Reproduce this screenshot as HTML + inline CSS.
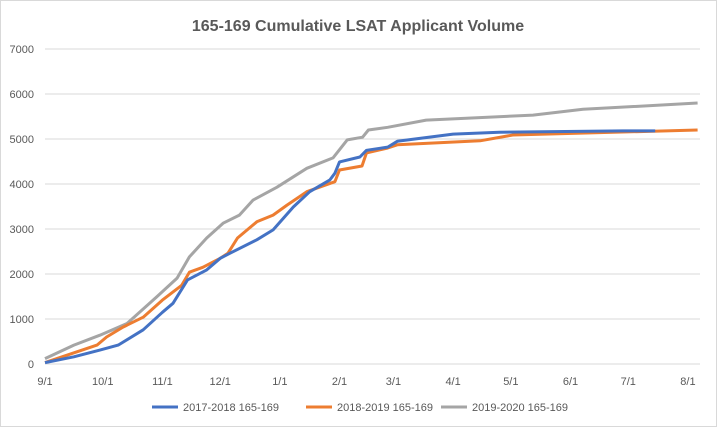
<!DOCTYPE html>
<html><head><meta charset="utf-8"><style>
body{margin:0;background:#fff;}
svg{display:block;font-family:"Liberation Sans",sans-serif;}
</style></head><body>
<svg id="chart" width="717" height="427">
<rect x="0.5" y="0.5" width="716" height="426" fill="#fff" stroke="#d9d9d9"/>
<text x="358" y="31" text-anchor="middle" font-size="16" font-weight="bold" fill="#595959">165-169 Cumulative LSAT Applicant Volume</text>
<g id="grid"></g><g id="yt"></g><g id="xt"></g><g id="lines"></g>
<g>
<line x1="152" y1="407" x2="178" y2="407" stroke="#4472C4" stroke-width="3"/>
<text x="183" y="411" font-size="11" fill="#595959">2017-2018 165-169</text>
<line x1="306" y1="407" x2="332" y2="407" stroke="#ED7D31" stroke-width="3"/>
<text x="337" y="411" font-size="11" fill="#595959">2018-2019 165-169</text>
<line x1="441" y1="407" x2="467" y2="407" stroke="#A5A5A5" stroke-width="3"/>
<text x="472" y="411" font-size="11" fill="#595959">2019-2020 165-169</text>
</g>
</svg>
<script>
const yTicks=[0,1000,2000,3000,4000,5000,6000,7000];
const xTickLabels=["9/1","10/1","11/1","12/1","1/1","2/1","3/1","4/1","5/1","6/1","7/1","8/1"];
const xTickDays=[0,30,61,91,122,153,181,212,242,273,303,334];
const s1Days=[0,15,28.5,38,51,61,66.5,74,84,91,96,110,118.5,129,137.5,148,150.6,153,163.6,167,178,183,212,236,300,317];
const s1Vals=[30,160,310,420,760,1150,1350,1870,2090,2350,2460,2760,2980,3490,3830,4090,4240,4490,4600,4750,4820,4950,5110,5150,5180,5180];
const s2Days=[0,27,32,40.5,51,61,71,75,82,91,95,100,110,118.5,125.7,136,150.6,153,164.7,167,178,183,226,243,339];
const s2Vals=[30,420,600,820,1040,1420,1750,2040,2150,2350,2460,2800,3160,3310,3530,3830,4050,4310,4400,4690,4800,4870,4960,5090,5200];
const s3Days=[0,15,28.5,42.6,58,68.6,75,84,92.5,101,108,120.5,136,149.6,157,165,168,178,198,253.5,279.5,339];
const s3Vals=[120,420,640,900,1490,1910,2380,2800,3130,3310,3640,3930,4350,4580,4980,5040,5200,5260,5420,5530,5660,5800];
const NS="http://www.w3.org/2000/svg";
const X0=45,X1=700,Y0=364,Y7=49;
const xS=d=>45+d*1.925;
const yS=v=>Y0-(v/7000)*(Y0-Y7);
function mk(t,a,p){const e=document.createElementNS(NS,t);for(const k in a)e.setAttribute(k,a[k]);document.getElementById(p).appendChild(e);return e;}
yTicks.forEach(v=>{
 const l=mk('line',{x1:X0,x2:X1,y1:yS(v),y2:yS(v),stroke:'#d9d9d9','stroke-width':1},'grid');
 
 
 const t=mk('text',{x:34,y:yS(v)+4,'text-anchor':'end','font-size':11,fill:'#595959'},'yt');
 t.textContent=v;
 
 
});
xTickLabels.forEach((lab,i)=>{
 const t=mk('text',{x:xS(xTickDays[i]),y:385,'text-anchor':'middle','font-size':11,fill:'#595959'},'xt');
 t.textContent=lab;
 
 
});
function series(days,vals,col,name){
 const d=days.map((x,i)=>(i?'L':'M')+xS(x).toFixed(1)+','+yS(vals[i]).toFixed(1)).join(' ');
 const p=mk('path',{d:d,fill:'none',stroke:col,'stroke-width':3,'stroke-linejoin':'round'},'lines');
 
 
}
series(s3Days,s3Vals,'#A5A5A5','line-2019-2020');
series(s2Days,s2Vals,'#ED7D31','line-2018-2019');
series(s1Days,s1Vals,'#4472C4','line-2017-2018');
</script>
</body></html>
